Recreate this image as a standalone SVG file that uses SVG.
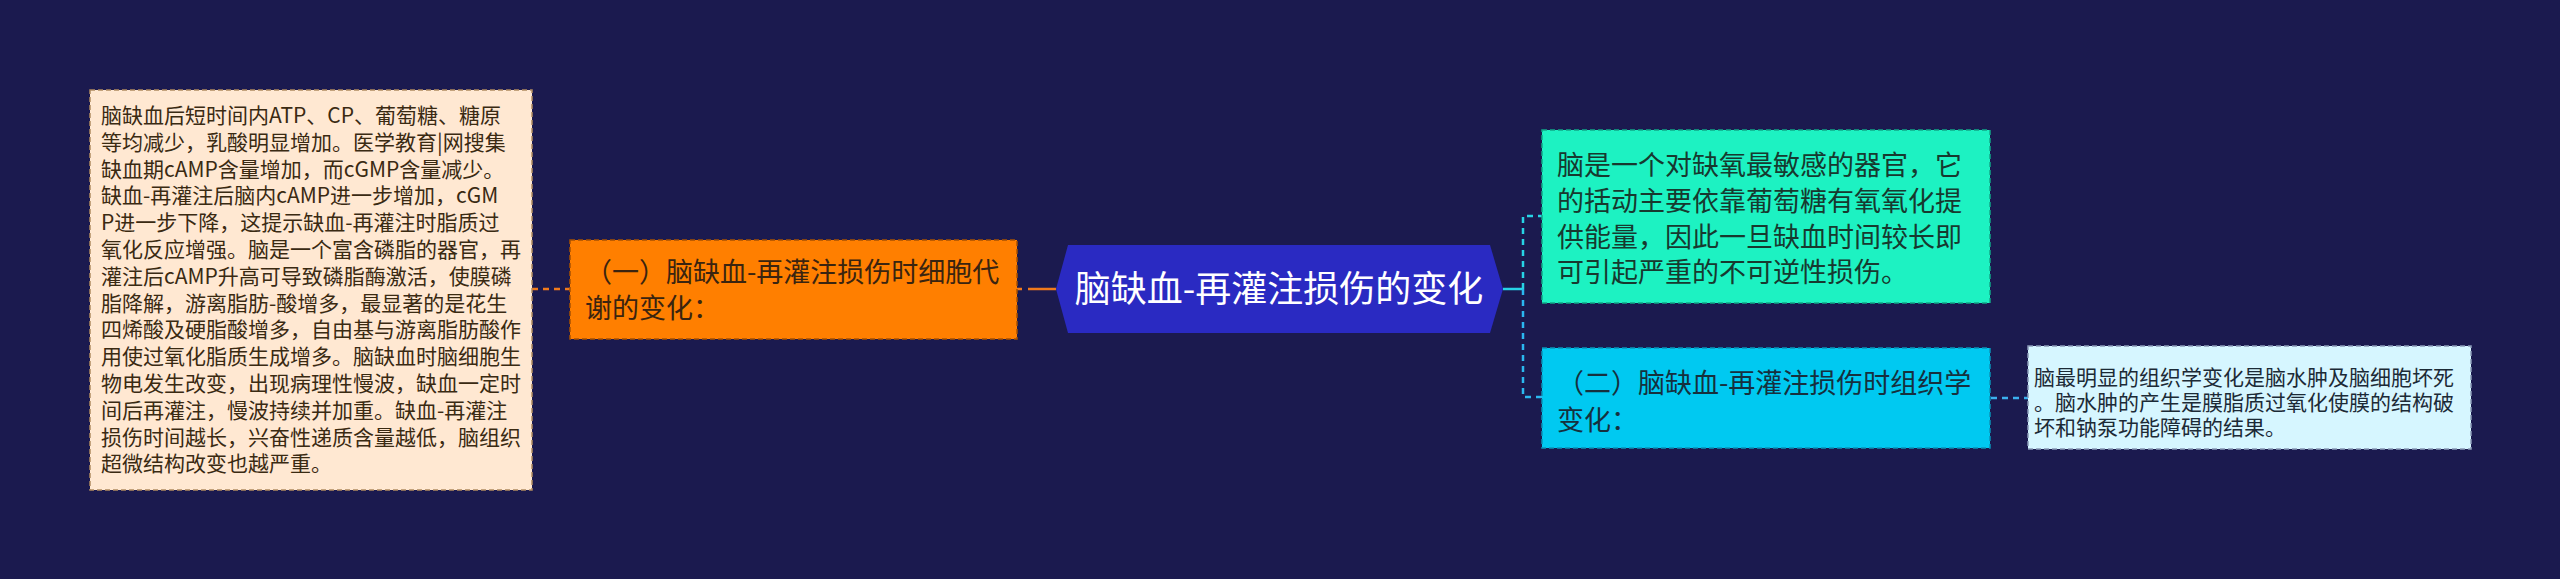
<svg xmlns="http://www.w3.org/2000/svg" width="2560" height="579" viewBox="0 0 2560 579">
<style>
text{font-family:"Noto Sans CJK SC","Noto Sans",sans-serif;}
.t21{font-size:21px;}
.t27{font-size:27px;}
.box{stroke-width:1.5;stroke-dasharray:5 3;}
.con{fill:none;stroke-width:2.5;stroke-dasharray:6 5;}
</style>
<rect width="2560" height="579" fill="#1b1a4f"/>
<g id="connectors">
<line x1="532" y1="289" x2="570" y2="289" class="con" stroke="#f07a1c"/>
<path d="M1017,289 L1056,289" class="con" stroke="#f07a1c" style="stroke-dasharray:5 6 40"/>
<path d="M1503,289 L1523,289" fill="none" stroke="#27d3e6" stroke-width="2.5"/>
<path d="M1523,289 L1523,216 L1542,216" class="con" stroke="#27d3e6"/>
<path d="M1523,289 L1523,397 L1542,397" class="con" stroke="#2bb8f0"/>
<line x1="1991" y1="398" x2="2028" y2="398" class="con" stroke="#3bb0ee"/>
</g>
<g id="node-left-detail">
<rect x="90" y="90" width="442" height="400" fill="#ffe8d2" stroke="#b08a60" class="box"/>
<text class="t21" fill="#3a2a12">
<tspan x="101" y="123">脑缺血后短时间内ATP、CP、葡萄糖、糖原</tspan>
<tspan x="101" y="150">等均减少，乳酸明显增加。医学教育|网搜集</tspan>
<tspan x="101" y="177">缺血期cAMP含量增加，而cGMP含量减少。</tspan>
<tspan x="101" y="203">缺血-再灌注后脑内cAMP进一步增加，cGM</tspan>
<tspan x="101" y="230">P进一步下降，这提示缺血-再灌注时脂质过</tspan>
<tspan x="101" y="257">氧化反应增强。脑是一个富含磷脂的器官，再</tspan>
<tspan x="101" y="284">灌注后cAMP升高可导致磷脂酶激活，使膜磷</tspan>
<tspan x="101" y="311">脂降解，游离脂肪-酸增多，最显著的是花生</tspan>
<tspan x="101" y="337">四烯酸及硬脂酸增多，自由基与游离脂肪酸作</tspan>
<tspan x="101" y="364">用使过氧化脂质生成增多。脑缺血时脑细胞生</tspan>
<tspan x="101" y="391">物电发生改变，出现病理性慢波，缺血一定时</tspan>
<tspan x="101" y="418">间后再灌注，慢波持续并加重。缺血-再灌注</tspan>
<tspan x="101" y="445">损伤时间越长，兴奋性递质含量越低，脑组织</tspan>
<tspan x="101" y="471">超微结构改变也越严重。</tspan>
</text>
</g>
<g id="node-orange">
<rect x="570" y="240" width="447" height="99" fill="#ff7f00" stroke="#a85200" class="box"/>
<text class="t27" fill="#3a2410">
<tspan x="585" y="282">（一）脑缺血-再灌注损伤时细胞代</tspan>
<tspan x="585" y="318">谢的变化：</tspan>
</text>
</g>
<g id="node-center">
<polygon points="1056,289 1068,245 1490,245 1503,289 1490,333 1068,333" fill="#2a2ac2"/>
<text x="1279" y="302" font-size="36" fill="#ffffff" text-anchor="middle">脑缺血-再灌注损伤的变化</text>
</g>
<g id="node-teal">
<rect x="1542" y="130" width="448" height="173" fill="#1df2c2" stroke="#10a888" class="box"/>
<text class="t27" fill="#17392f">
<tspan x="1557" y="175">脑是一个对缺氧最敏感的器官，它</tspan>
<tspan x="1557" y="211">的括动主要依靠葡萄糖有氧氧化提</tspan>
<tspan x="1557" y="247">供能量，因此一旦缺血时间较长即</tspan>
<tspan x="1557" y="282">可引起严重的不可逆性损伤。</tspan>
</text>
</g>
<g id="node-cyan">
<rect x="1542" y="348" width="448" height="100" fill="#00c9f1" stroke="#0a93b8" class="box"/>
<text class="t27" fill="#16303e">
<tspan x="1557" y="393">（二）脑缺血-再灌注损伤时组织学</tspan>
<tspan x="1557" y="430">变化：</tspan>
</text>
</g>
<g id="node-right-detail">
<rect x="2028" y="346" width="443" height="103" fill="#d6f6ff" stroke="#8a9ab8" class="box"/>
<text class="t21" fill="#1c2a36">
<tspan x="2034" y="385">脑最明显的组织学变化是脑水肿及脑细胞坏死</tspan>
<tspan x="2034" y="410">。脑水肿的产生是膜脂质过氧化使膜的结构破</tspan>
<tspan x="2034" y="435">坏和钠泵功能障碍的结果。</tspan>
</text>
</g>
</svg>
